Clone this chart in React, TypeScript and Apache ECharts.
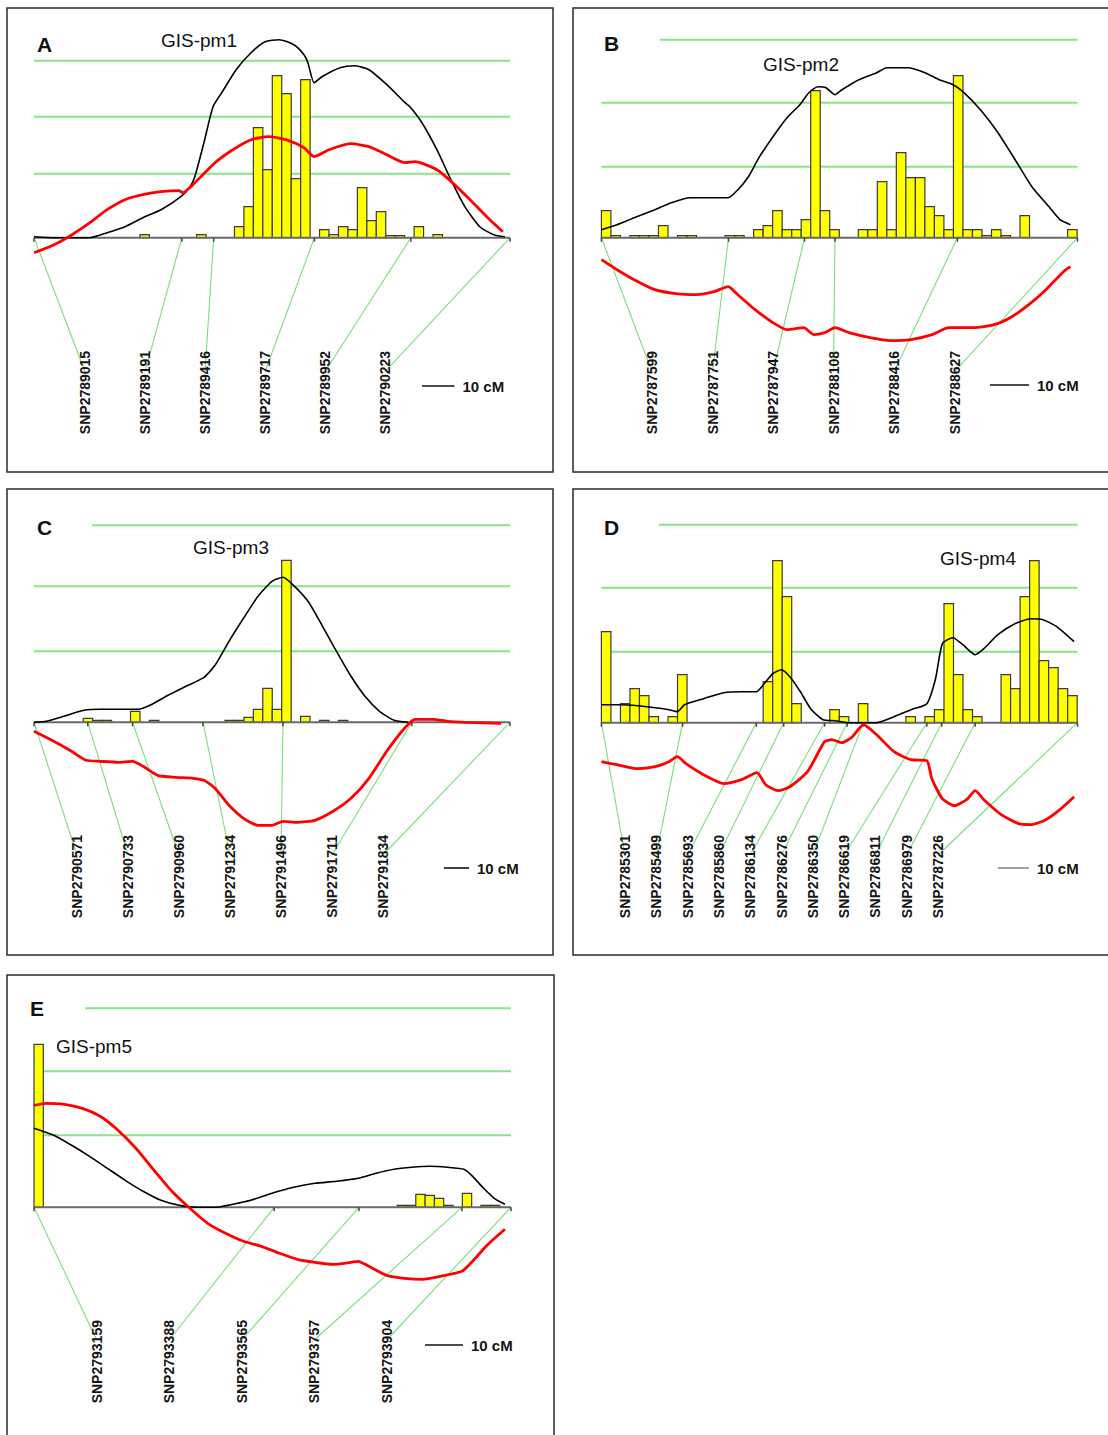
import React, { useEffect, useRef } from "react";
import * as echarts from "echarts";

const FONT = "'Liberation Sans', Arial, Helvetica, sans-serif";

// ---------------- Panel A (GIS-pm1) ----------------
const A_title = "GIS-pm1";
const A_lengthCM = 146.5;
const A_markers = ["SNP2789015", "SNP2789191", "SNP2789416", "SNP2789717", "SNP2789952", "SNP2790223"];
const A_markerPos = [0, 45.5, 55.3, 86.3, 116, 146.5];
const A_binStart = 32.6;
const A_binWidth = 2.91;
const A_bins = [0.3, 0, 0, 0, 0, 0, 0.3, 0, 0, 0, 1.1, 3.1, 11.0, 6.8, 16.2, 14.4, 5.9, 15.8, 0, 0.8, 0.3, 1.1, 0.8, 5.0, 1.7, 2.6, 0.2, 0.2, 0, 1.1, 0, 0.3];
const A_black = [[0, 0.1], [6.2, 0], [11.7, 0], [17.2, 0], [22.5, 0.5], [28, 1.1], [33.5, 2.0], [39.1, 2.8], [45.2, 4.1], [48, 5.1], [49.5, 6.1], [52.3, 9.5], [55.1, 13.1], [57.8, 14.5], [62.2, 16.8], [66.8, 18.5], [71.1, 19.6], [75.4, 19.8], [80, 19.3], [83.1, 18.3], [84.3, 17.5], [86.2, 15.5], [88.6, 16.1], [94.2, 17], [98.5, 17.2], [103.1, 16.8], [108.6, 15.3], [114.2, 13.5], [115.7, 13.1], [119.4, 11.5], [124, 8.8], [128.3, 5.8], [132.6, 3.1], [137.2, 1.1], [141.5, 0.3], [144.9, 0.1]];
const A_red = [[0, -1.5], [6.2, -0.7], [11.7, 0.3], [17.2, 1.5], [22.5, 2.8], [28, 3.8], [33.5, 4.3], [39.1, 4.6], [44.6, 4.7], [45.8, 4.5], [48.9, 5.3], [55.7, 7.5], [61.2, 8.8], [66.8, 9.8], [72.3, 10.1], [77.5, 9.8], [83.1, 9.0], [86.2, 8.1], [90.8, 8.8], [97.5, 9.4], [103.1, 9.1], [108.6, 8.3], [114.2, 7.5], [117.2, 7.6], [124, 6.8], [129.5, 5.3], [135.1, 3.5], [140.3, 1.8], [144.3, 0.6]];
const A_levels = [6.4, 12.1, 17.7];

// ---------------- Panel B (GIS-pm2) ----------------
const B_title = "GIS-pm2";
const B_lengthCM = 122.1;
const B_markers = ["SNP2787599", "SNP2787751", "SNP2787947", "SNP2788108", "SNP2788416", "SNP2788627"];
const B_markerPos = [0, 32.6, 52.1, 59.9, 91.3, 122.1];
const B_binStart = 0;
const B_binWidth = 2.44;
const B_bins = [
  2.7, 0.2, 0, 0.2, 0.2, 0.2, 1.2, 0, 0.2, 0.2,
  0, 0, 0, 0.2, 0.2, 0, 0.8, 1.2, 2.7, 0.8,
  0.8, 1.8, 14.7, 2.7, 0.8, 0, 0, 0.8, 0.8, 5.6,
  0.8, 8.5, 6.0, 6.0, 3.1, 2.2, 0.8, 16.2, 0.8, 0.8,
  0.2, 0.8, 0.2, 0, 2.2, 0, 0, 0, 0, 0.8,
];
const B_black = [[0, 0.8], [4, 1.3], [8.4, 2.0], [13.7, 2.8], [17.3, 3.4], [22.7, 4.0], [27.8, 4.0], [32.5, 4.0], [35, 4.8], [37.7, 6.1], [40.4, 8.0], [44, 10.1], [47.6, 12.0], [50.9, 13.3], [53.2, 14.5], [55.5, 15.1], [57.6, 15.0], [59.9, 14.3], [61.7, 14.8], [66, 15.8], [70.6, 16.5], [73.2, 17.0], [78.6, 17.0], [83, 16.5], [86.6, 15.8], [90.2, 15.3], [92.7, 14.6], [97.2, 12.8], [101.7, 10.5], [106.1, 7.8], [110.4, 5.1], [115, 3.0], [117.6, 1.8], [120.3, 1.3]];
const B_red = [[0, -2.2], [4, -3.2], [8.4, -4.2], [13.7, -5.2], [19.1, -5.6], [24.4, -5.7], [28.9, -5.4], [32.5, -4.9], [35, -5.7], [39.4, -7.2], [44, -8.5], [47.6, -9.2], [51.9, -9.0], [54.5, -9.7], [57.3, -9.5], [59.9, -9.0], [63.5, -9.5], [68.9, -10.0], [74.1, -10.3], [79.4, -10.2], [84.8, -9.7], [89.1, -9.0], [95.4, -9.0], [100.7, -8.7], [105.3, -7.9], [109.6, -6.7], [114, -5.2], [118.5, -3.4], [120.3, -2.9]];
const B_levels = [7.1, 13.5, 19.8];

// ---------------- Panel C (GIS-pm3) ----------------
const C_title = "GIS-pm3";
const C_lengthCM = 190.4;
const C_markers = ["SNP2790571", "SNP2790733", "SNP2790960", "SNP2791234", "SNP2791496", "SNP2791711", "SNP2791834"];
const C_markerPos = [0, 21.5, 39.4, 67.6, 99.6, 151.1, 190.4];
const C_binStart = 19.7;
const C_binWidth = 3.78;
const C_bins = [0.4, 0.2, 0.2, 0, 0, 1.1, 0, 0.2, 0, 0, 0, 0, 0, 0, 0, 0.2, 0.2, 0.5, 1.3, 3.4, 1.3, 16.2, 0, 0.6, 0, 0.2, 0, 0.2];
const C_black = [[0, 0], [5, 0.1], [12, 0.6], [20, 1.2], [26.4, 1.3], [35.2, 1.3], [41.6, 1.3], [46.4, 1.7], [53.6, 2.7], [60.8, 3.6], [68, 4.5], [72.4, 5.7], [78, 8.1], [83.8, 10.4], [89.6, 12.6], [95.2, 14.1], [99.6, 14.5], [103.8, 13.7], [109.6, 12.1], [115.2, 9.7], [121, 7.1], [126.8, 4.6], [132.4, 2.6], [138.2, 1.1], [144, 0.2], [149.6, 0]];
const C_red = [[0, -0.9], [7.9, -1.9], [15, -2.9], [20.8, -3.8], [26.4, -3.9], [33.6, -4.0], [39.4, -3.9], [43.6, -4.4], [49.4, -5.3], [56.6, -5.5], [63.6, -5.6], [68, -5.8], [72.4, -6.6], [78, -8.3], [83.8, -9.6], [89.6, -10.3], [95.2, -10.3], [99.6, -9.9], [105.2, -10.0], [112.4, -9.8], [119.6, -8.9], [126.8, -7.6], [134, -5.6], [141.1, -2.9], [148.2, -0.6], [152.4, 0.3], [159.6, 0.3], [165.4, 0.1], [172.6, 0], [186.8, -0.1]];
const C_levels = [7.1, 13.6, 19.7];

// ---------------- Panel D (GIS-pm4) ----------------
const D_title = "GIS-pm4";
const D_lengthCM = 153.6;
const D_markers = ["SNP2785301", "SNP2785499", "SNP2785693", "SNP2785860", "SNP2786134", "SNP2786276", "SNP2786350", "SNP2786619", "SNP2786811", "SNP2786979", "SNP2787226"];
const D_markerPos = [0, 26.2, 50, 58.8, 72, 79.3, 84.5, 105, 109.8, 120.6, 153.6];
const D_binStart = 0;
const D_binWidth = 3.07;
const D_bins = [
  9.1, 0, 1.9, 3.4, 2.7, 0.6, 0, 0.6, 4.8, 0,
  0, 0, 0, 0, 0, 0, 0, 4.1, 16.2, 12.6,
  1.9, 0, 0, 0, 1.3, 0.6, 0, 1.9, 0, 0,
  0, 0, 0.6, 0, 0.6, 1.3, 11.9, 4.8, 1.3, 0.6,
  0, 0, 4.8, 3.4, 12.6, 16.2, 6.2, 5.5, 3.4, 2.7,
];
const D_black = [[0, 1.8], [6.1, 1.8], [11.7, 1.7], [17.3, 1.5], [21.8, 1.3], [24.5, 1.1], [26.8, 1.8], [32.9, 2.4], [39.5, 3.0], [45.2, 3.1], [50, 3.1], [52.5, 3.9], [55.3, 4.9], [58.1, 5.3], [60.8, 4.6], [64.2, 3.1], [67.5, 1.4], [71.5, 0.3], [75.4, 0.2], [79.9, 0], [84.3, 0], [88.8, 0], [94.4, 0.6], [99.9, 1.3], [105, 1.9], [107.8, 4.4], [110, 7.9], [113.4, 8.5], [116.6, 7.8], [120.6, 6.8], [123.4, 7.4], [127.9, 8.8], [133.4, 9.9], [138.5, 10.4], [142.5, 10.3], [146.9, 9.6], [152.5, 8.1]];
const D_red = [[0, -3.9], [5, -4.2], [11.7, -4.6], [17.3, -4.4], [21.8, -3.9], [24.5, -3.4], [27.3, -4.1], [32.9, -5.2], [39.5, -6.1], [45.2, -5.7], [50.2, -5.0], [53, -6.2], [57, -6.8], [60.8, -6.4], [66.5, -4.9], [72, -1.9], [74.3, -1.7], [77.6, -2.0], [81, -1.4], [84.5, -0.2], [88.8, -1.2], [94.4, -2.9], [99.9, -3.7], [105, -3.8], [106.6, -5.6], [110, -7.6], [113.9, -8.3], [117.8, -7.7], [120.6, -6.8], [123.4, -7.7], [129, -9.2], [134.6, -10.1], [138.5, -10.2], [143.4, -9.7], [147.9, -8.7], [152.5, -7.4]];
const D_levels = [7.1, 13.5, 19.8];

// ---------------- Panel E (GIS-pm5) ----------------
const E_title = "GIS-pm5";
const E_lengthCM = 125.5;
const E_markers = ["SNP2793159", "SNP2793388", "SNP2793565", "SNP2793757", "SNP2793904"];
const E_markerPos = [0, 63.2, 85.5, 112.6, 125.5];
const E_binStart = 0;
const E_binWidth = 2.45;
const E_bins = [
  16.3, 0, 0, 0, 0, 0, 0, 0, 0, 0,
  0, 0, 0, 0, 0, 0, 0, 0, 0, 0,
  0, 0, 0, 0, 0, 0, 0, 0, 0, 0,
  0, 0, 0, 0, 0, 0, 0, 0, 0, 0.2,
  0.2, 1.3, 1.2, 0.9, 0.2, 0, 1.4, 0, 0.2, 0.2,
];
const E_black = [[0, 7.9], [5.2, 7.2], [9.9, 6.2], [14.6, 5.1], [19.3, 3.9], [24, 2.7], [28.7, 1.6], [33.4, 0.7], [38.2, 0.2], [42.9, 0], [47.6, 0], [52.3, 0.3], [57, 0.7], [62.6, 1.4], [68.3, 2.0], [73.9, 2.4], [79.6, 2.6], [85.3, 2.9], [90, 3.4], [94.7, 3.8], [99.4, 4.0], [104.1, 4.1], [108.8, 4.0], [113.1, 3.8], [115.4, 3.1], [118.3, 1.9], [121.1, 0.9], [123.9, 0.3]];
const E_red = [[0, 10.2], [3.3, 10.4], [8, 10.3], [12.7, 9.9], [17.4, 9.1], [22.1, 7.7], [26.8, 5.9], [31.6, 3.7], [36.3, 1.6], [41, -0.1], [45.7, -1.6], [50.4, -2.6], [55.1, -3.4], [59.8, -3.9], [64.6, -4.6], [69.3, -5.2], [73.9, -5.5], [78.7, -5.7], [83.4, -5.5], [85.3, -5.4], [88.1, -5.9], [92.8, -6.8], [97.5, -7.1], [102.2, -7.2], [106.9, -6.9], [112.6, -6.4], [115.4, -5.4], [119.2, -3.8], [123.9, -2.2]];
const E_levels = [7.2, 13.6, 19.9];

const SCALE_CM = 10;

// ---------------- Layout (pixels) ----------------
const PX_PER_UNIT = 10;
const LAYOUT = [
  { box: [7, 8, 546, 464], axisY: 237.7, left: 34, width: 476, yMin: -3, yMax: 22, letter: [37, 44], titlePos: [161, 40], labelX0: 85, labelStep: 60, labelTop: 351.7, labelMid: 392.5, sbX: 422, sbY: 386, sbColor: "#111", topInset: 0 },
  { box: [573, 8, 545, 464], axisY: 237.7, left: 601.4, width: 476.1, yMin: -12, yMax: 22, letter: [604, 43], titlePos: [763, 64], labelX0: 652, labelStep: 60.5, labelTop: 351.7, labelMid: 392.5, sbX: 990, sbY: 385, sbColor: "#111", topInset: 58.6 },
  { box: [7, 489, 546, 466], axisY: 722.3, left: 34, width: 476, yMin: -12, yMax: 22, letter: [37, 527], titlePos: [193, 547], labelX0: 77, labelStep: 51, labelTop: 835, labelMid: 876.5, sbX: 444, sbY: 868, sbColor: "#111", topInset: 58 },
  { box: [573, 489, 545, 466], axisY: 722.7, left: 601.4, width: 476.1, yMin: -12, yMax: 22, letter: [604, 527], titlePos: [940, 558], labelX0: 625, labelStep: 31.3, labelTop: 835, labelMid: 876.5, sbX: 998, sbY: 868, sbColor: "#888", topInset: 57.6 },
  { box: [7, 975, 547, 480], axisY: 1207.3, left: 34, width: 477, yMin: -9, yMax: 22, letter: [30, 1008], titlePos: [56, 1046], labelX0: 96.7, labelStep: 72.5, labelTop: 1320, labelMid: 1361.7, sbX: 425, sbY: 1345, sbColor: "#111", topInset: 51 },
];

const PANELS = [
  { letter: "A", title: A_title, length: A_lengthCM, markers: A_markers, markerPos: A_markerPos, binStart: A_binStart, binWidth: A_binWidth, bins: A_bins, black: A_black, red: A_red, levels: A_levels },
  { letter: "B", title: B_title, length: B_lengthCM, markers: B_markers, markerPos: B_markerPos, binStart: B_binStart, binWidth: B_binWidth, bins: B_bins, black: B_black, red: B_red, levels: B_levels },
  { letter: "C", title: C_title, length: C_lengthCM, markers: C_markers, markerPos: C_markerPos, binStart: C_binStart, binWidth: C_binWidth, bins: C_bins, black: C_black, red: C_red, levels: C_levels },
  { letter: "D", title: D_title, length: D_lengthCM, markers: D_markers, markerPos: D_markerPos, binStart: D_binStart, binWidth: D_binWidth, bins: D_bins, black: D_black, red: D_red, levels: D_levels },
  { letter: "E", title: E_title, length: E_lengthCM, markers: E_markers, markerPos: E_markerPos, binStart: E_binStart, binWidth: E_binWidth, bins: E_bins, black: E_black, red: E_red, levels: E_levels },
];

const GREEN = "#86e586";
const CONNECT = "#7ade7a";

function textStyle(text: string, font: string, fill: string, align: string, vAlign: string) {
  return { text, font, fill, align, verticalAlign: vAlign, textAlign: align, textVerticalAlign: vAlign };
}

function buildOption() {
  const grid: any[] = [];
  const xAxis: any[] = [];
  const yAxis: any[] = [];
  const series: any[] = [];
  const graphic: any[] = [];

  PANELS.forEach((p, i) => {
    const L = LAYOUT[i];
    grid.push({
      left: L.left,
      top: L.axisY - L.yMax * PX_PER_UNIT,
      width: L.width,
      height: (L.yMax - L.yMin) * PX_PER_UNIT,
      containLabel: false,
    });
    xAxis.push({ type: "value", gridIndex: i, min: 0, max: p.length, show: false });
    yAxis.push({ type: "value", gridIndex: i, min: L.yMin, max: L.yMax, show: false });

    // threshold lines (behind the bars)
    series.push({
      type: "custom",
      xAxisIndex: i,
      yAxisIndex: i,
      silent: true,
      z: 1,
      data: [[0, 0]],
      renderItem: (params: any, api: any) => {
        const children = p.levels.map((lv: number, j: number) => {
          const a = api.coord([0, lv]);
          const b = api.coord([p.length, lv]);
          const inset = j === p.levels.length - 1 ? L.topInset : 0;
          return {
            type: "line",
            shape: { x1: a[0] + inset, y1: a[1], x2: b[0], y2: b[1] },
            style: { stroke: GREEN, lineWidth: 2 },
          };
        });
        return { type: "group", children };
      },
    });

    // histogram bars
    const barData: number[][] = [];
    p.bins.forEach((h: number, k: number) => {
      if (h > 0) barData.push([p.binStart + k * p.binWidth, p.binStart + (k + 1) * p.binWidth, h]);
    });
    series.push({
      type: "custom",
      xAxisIndex: i,
      yAxisIndex: i,
      silent: true,
      z: 2,
      encode: { x: [0, 1], y: [2] },
      data: barData,
      renderItem: (params: any, api: any) => {
        const p0 = api.coord([api.value(0), api.value(2)]);
        const p1 = api.coord([api.value(1), 0]);
        return {
          type: "rect",
          shape: { x: p0[0], y: p0[1], width: p1[0] - p0[0], height: p1[1] - p0[1] },
          style: { fill: "#ffff00", stroke: "#3a3a3a", lineWidth: 1.2 },
        };
      },
    });

    // axis, marker connectors, marker labels, scale bar
    series.push({
      type: "custom",
      xAxisIndex: i,
      yAxisIndex: i,
      silent: true,
      z: 3,
      data: [[0, 0]],
      renderItem: (params: any, api: any) => {
        const children: any[] = [];
        const a0 = api.coord([0, 0]);
        const a1 = api.coord([p.length, 0]);
        p.markerPos.forEach((m: number, k: number) => {
          const t = api.coord([m, 0]);
          const sx = L.labelX0 + k * L.labelStep;
          children.push({
            type: "line",
            shape: { x1: t[0], y1: t[1], x2: sx, y2: L.labelTop + 20 },
            style: { stroke: CONNECT, lineWidth: 1.1 },
          });
        });
        children.push({
          type: "line",
          shape: { x1: a0[0], y1: a0[1], x2: a1[0], y2: a1[1] },
          style: { stroke: "#6a6a6a", lineWidth: 2 },
        });
        p.markerPos.forEach((m: number) => {
          const t = api.coord([m, 0]);
          children.push({
            type: "line",
            shape: { x1: t[0], y1: t[1], x2: t[0], y2: t[1] + 4 },
            style: { stroke: "#444", lineWidth: 1.5 },
          });
        });
        p.markers.forEach((name: string, k: number) => {
          const sx = L.labelX0 + k * L.labelStep;
          children.push({
            type: "text",
            x: sx,
            y: L.labelMid,
            rotation: Math.PI / 2,
            style: textStyle(name, `bold 14px ${FONT}`, "#151515", "center", "middle"),
          });
        });
        const len = api.size([SCALE_CM, 0])[0];
        children.push({
          type: "line",
          shape: { x1: L.sbX, y1: L.sbY, x2: L.sbX + len, y2: L.sbY },
          style: { stroke: L.sbColor, lineWidth: 1.6 },
        });
        children.push({
          type: "text",
          x: L.sbX + len + 8,
          y: L.sbY,
          style: textStyle(`${SCALE_CM} cM`, `bold 15px ${FONT}`, "#151515", "left", "middle"),
        });
        return { type: "group", children };
      },
    });

    series.push({
      type: "line",
      xAxisIndex: i,
      yAxisIndex: i,
      data: p.black,
      showSymbol: false,
      symbol: "none",
      smooth: 0.2,
      clip: false,
      silent: true,
      z: 4,
      lineStyle: { color: "#000000", width: 1.6 },
    });
    series.push({
      type: "line",
      xAxisIndex: i,
      yAxisIndex: i,
      data: p.red,
      showSymbol: false,
      symbol: "none",
      smooth: 0.2,
      clip: false,
      silent: true,
      z: 5,
      lineStyle: { color: "#ff0000", width: 2.8 },
    });

    graphic.push({
      type: "rect",
      shape: { x: L.box[0], y: L.box[1], width: L.box[2], height: L.box[3] },
      style: { fill: "none", stroke: "#2a2a2a", lineWidth: 1.5 },
      silent: true,
      z: 10,
    });
    graphic.push({
      type: "text",
      x: L.letter[0],
      y: L.letter[1],
      style: textStyle(p.letter, `bold 21px ${FONT}`, "#111", "left", "middle"),
      silent: true,
      z: 10,
    });
    graphic.push({
      type: "text",
      x: L.titlePos[0],
      y: L.titlePos[1],
      style: textStyle(p.title, `19px ${FONT}`, "#111", "left", "middle"),
      silent: true,
      z: 10,
    });
  });

  return {
    animation: false,
    backgroundColor: "#ffffff",
    grid,
    xAxis,
    yAxis,
    series,
    graphic,
  };
}

export default function App() {
  const ref = useRef<HTMLDivElement | null>(null);
  useEffect(() => {
    if (!ref.current) return;
    const chart = echarts.init(ref.current, undefined, { renderer: "svg" });
    chart.setOption(buildOption() as any);
    return () => {
      chart.dispose();
    };
  }, []);
  return (
    <div
      ref={ref}
      style={{ position: "absolute", left: 0, top: 0, width: 1108, height: 1435, background: "#ffffff" }}
    />
  );
}
